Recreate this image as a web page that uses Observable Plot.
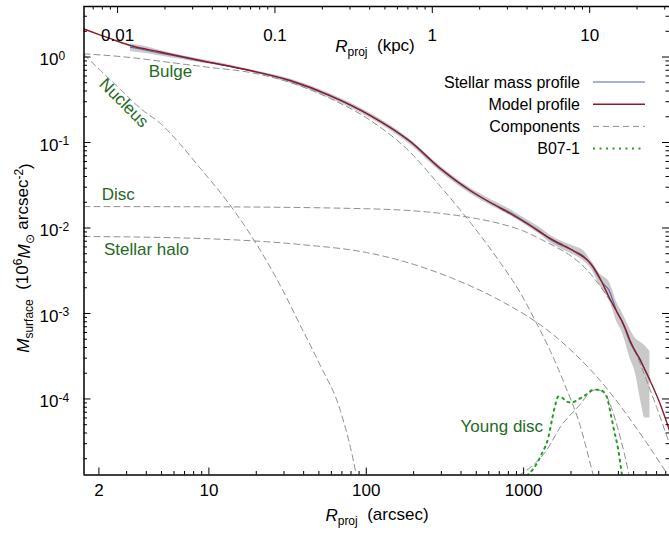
<!DOCTYPE html>
<html><head><meta charset="utf-8">
<script src="https://cdn.jsdelivr.net/npm/d3@7"></script>
<script src="https://cdn.jsdelivr.net/npm/@observablehq/plot@0.6"></script>
<style>
html,body{margin:0;padding:0;background:#fff;}
#chart svg text{font-family:"Liberation Sans", Arial, Helvetica, sans-serif;}
</style></head><body><div id="chart"></div>
<script>
// ---------- data (R in arcsec, M in 10^6 Msun arcsec^-2) ----------
const modelR = [1.608, 2.047, 2.549, 3.17, 4.922, 8.83, 18.34, 32.9, 59.0, 106.5, 190.9, 296, 458, 612, 820, 1097, 1473, 1800, 2100, 2695, 3060, 3470, 3905, 4404, 4740, 5520, 6350, 7310, 8450];
const modelM = [2.126, 1.808, 1.560, 1.363, 1.144, 0.910, 0.695, 0.531, 0.3545, 0.2069, 0.1027, 0.0496, 0.02745, 0.01987, 0.01478, 0.01070, 0.00754, 0.00624, 0.00531, 0.00374, 0.002566, 0.00158, 0.001055, 0.000686, 0.000483, 0.000282, 0.0001646, 0.0000910, 0.0000428];

const obsR = [3.17, 3.674, 4.922, 6.59, 8.83, 11.83, 18.34, 32.9, 59.0, 106.5, 190.9, 296, 458, 612, 820, 1097, 1300, 1473, 1800, 2100, 2400, 2695, 3060, 3300, 3470, 3700, 3905, 4200, 4404, 4740, 5100, 5520, 5900, 6350];
const obsM = [1.30, 1.24, 1.11, 1.00, 0.90, 0.82, 0.69, 0.525, 0.350, 0.205, 0.101, 0.0490, 0.0272, 0.0200, 0.0152, 0.0109, 0.0089, 0.0074, 0.0061, 0.0054, 0.0047, 0.0037, 0.0025, 0.0021, 0.0019, 0.0014, 0.00105, 0.00083, 0.00066, 0.00046, 0.00036, 0.00029, 0.00022, 0.00017];
const obsLo = [1.16, 1.12, 1.03, 0.94, 0.86, 0.79, 0.67, 0.495, 0.328, 0.191, 0.094, 0.0455, 0.0252, 0.0185, 0.0140, 0.0100, 0.0081, 0.0067, 0.0055, 0.0048, 0.0041, 0.0033, 0.0021, 0.0017, 0.0015, 0.00108, 0.00080, 0.00062, 0.00048, 0.00030, 0.00021, 0.00010, 0.00006, 0.00006];
const obsHi = [1.42, 1.36, 1.19, 1.05, 0.94, 0.85, 0.71, 0.555, 0.372, 0.219, 0.108, 0.0527, 0.0293, 0.0217, 0.0165, 0.0119, 0.0098, 0.0082, 0.0068, 0.0061, 0.0054, 0.0041, 0.0029, 0.0026, 0.0024, 0.0018, 0.00135, 0.00105, 0.00088, 0.00066, 0.00052, 0.00046, 0.00042, 0.00036];

const nucleusR = [1.608, 2.047, 2.743, 3.674, 4.922, 6.592, 8.831, 11.83, 15.85, 21.23, 28.44, 38.1, 51.0, 68.4, 86.5, 94.4];
const nucleusM = [1.07, 0.695, 0.417, 0.250, 0.167, 0.0948, 0.0497, 0.0260, 0.01257, 0.00546, 0.00212, 0.000724, 0.000247, 0.0000733, 0.0000127, 0.000005];

const bulgeR = [1.608, 3.17, 5.70, 10.22, 18.34, 32.9, 59.0, 106.5, 190.9, 296, 458, 709, 950, 1183, 1473, 1833, 2284, 2720, 3060];
const bulgeM = [1.090, 0.987, 0.862, 0.754, 0.659, 0.503, 0.327, 0.181, 0.0764, 0.0306, 0.0116, 0.00395, 0.00176, 0.000828, 0.000369, 0.000144, 0.000049, 0.0000146, 0.0000065];

const discR = [1.608, 10, 100, 300, 500, 700, 1000, 1300, 1600, 2000, 2500, 3000, 3500, 4000, 4500, 5000, 5500, 6000, 7000, 8000, 8450];
const discM = [0.0178, 0.0177, 0.0168, 0.0148, 0.0129, 0.0113, 0.0092, 0.0073, 0.0060, 0.0047, 0.0033, 0.0022, 0.00145, 0.00095, 0.00060, 0.00039, 0.00026, 0.00017, 0.000080, 0.000040, 0.000030];

const haloR = [1.608, 8.83, 38.1, 100, 164.9, 342, 709, 1473, 1706, 3060, 5906, 8140, 9160];
const haloM = [0.00796, 0.00754, 0.00641, 0.00517, 0.00417, 0.002637, 0.001419, 0.000604, 0.000483, 0.0001646, 0.0000327, 0.00001345, 0.0000097];

const youngR = [927, 1396, 1706, 2284, 2642, 2890, 3160, 3404, 3667, 3950, 4315, 4645, 4836];
const youngM = [0.0000127, 0.000025, 0.0000465, 0.0000863, 0.000119, 0.000129, 0.0001225, 0.000104, 0.0000733, 0.0000465, 0.000025, 0.00001345, 0.0000085];

const b07R = [1048, 1154, 1305, 1437, 1510, 1585, 1663, 1755, 1861, 2023, 2218, 2458, 2775, 3060, 3245, 3404, 3540, 3717, 3999, 4203, 4283];
const b07M = [0.0000127, 0.0000153, 0.0000229, 0.0000357, 0.000056, 0.0000839, 0.000107, 0.000104, 0.0000935, 0.000091, 0.0000987, 0.00011, 0.000128, 0.0001276, 0.000119, 0.0001014, 0.0000733, 0.0000468, 0.000025, 0.00001345, 0.0000106];

// tick values
const xMajor = [2, 10, 100, 1000];
const xMinor = [3,4,5,6,7,8,9,20,30,40,50,60,70,80,90,200,300,400,500,600,700,800,900,2000,3000,4000,5000,6000,7000,8000];
const kpcMajor = [0.01, 0.1, 1, 10];
const kpcMinor = [0.007,0.008,0.009,0.02,0.03,0.04,0.05,0.06,0.07,0.08,0.09,0.2,0.3,0.4,0.5,0.6,0.7,0.8,0.9,2,3,4,5,6,7,8,9,20,30];
const yMajor = [1, 0.1, 0.01, 0.001, 0.0001];
const yMinor = [2e-5,3e-5,4e-5,5e-5,6e-5,7e-5,8e-5,9e-5,2e-4,3e-4,4e-4,5e-4,6e-4,7e-4,8e-4,9e-4,0.002,0.003,0.004,0.005,0.006,0.007,0.008,0.009,0.02,0.03,0.04,0.05,0.06,0.07,0.08,0.09,0.2,0.3,0.4,0.5,0.6,0.7,0.8,0.9,2,3];
const ARCSEC_PER_KPC = 262.8;

// component annotations
const annotR = [5.70, 2.654, 4.01];
const annotM = [0.677, 0.0243, 0.00553];
const annotText = ["Bulge", "Disc", "Stellar halo"];

// ---------- layout ----------
const W = 669, H = 535, ML = 83.5, MR = 0, MT = 6, MB = 60.5;
const PW = W - ML - MR, PH = H - MT - MB;
const XDOM = [1.608, 8450], YDOM = [1.29e-5, 3.9];
const BLUE = "#5a62a8", RED = "#8b1a2a", GREY = "#8e8e8e", GREEN = "#22a022", TGREEN = "#236b23", BAND = "#c9c9c9";
const FONT = '"Liberation Sans", Arial, Helvetica, sans-serif';

const zip = (R, M) => R.map((r, i) => ({r, m: M[i]}));
const band = obsR.map((r, i) => ({r, lo: obsLo[i], hi: obsHi[i]}));
const dashed = {x: "r", y: "m", stroke: GREY, strokeWidth: 1, strokeDasharray: "6,4", curve: "monotone-x", clip: true};

const plot = Plot.plot({
  width: W, height: H,
  marginLeft: ML, marginRight: MR, marginTop: MT, marginBottom: MB,
  style: {fontFamily: FONT, fontSize: "17px", background: "white", color: "black", overflow: "visible"},
  x: {type: "log", domain: XDOM, axis: null},
  y: {type: "log", domain: YDOM, axis: null},
  marks: [
    Plot.areaY(band, {x: "r", y1: "lo", y2: "hi", fill: BAND, curve: "monotone-x", clip: true}),
    Plot.line(zip(nucleusR, nucleusM), dashed),
    Plot.line(zip(bulgeR, bulgeM), dashed),
    Plot.line(zip(discR, discM), dashed),
    Plot.line(zip(haloR, haloM), dashed),
    Plot.line(zip(youngR, youngM), dashed),
    Plot.line(zip(b07R, b07M), {x: "r", y: "m", stroke: GREEN, strokeWidth: 2, strokeDasharray: "2,4.5", curve: "monotone-x", clip: true}),
    Plot.line(zip(obsR, obsM), {x: "r", y: "m", stroke: BLUE, strokeWidth: 1.1, curve: "monotone-x", clip: true}),
    Plot.line(zip(modelR, modelM), {x: "r", y: "m", stroke: RED, strokeWidth: 1.4, curve: "monotone-x", clip: true}),
    // ticks (inward)
    Plot.tickY(yMajor, {stroke: "black", insetRight: PW - 7}),
    Plot.tickY(yMinor, {stroke: "black", insetRight: PW - 3.5}),
    Plot.tickY(yMajor, {stroke: "black", insetLeft: PW - 7}),
    Plot.tickY(yMinor, {stroke: "black", insetLeft: PW - 3.5}),
    Plot.tickX(xMajor, {stroke: "black", insetTop: PH - 7}),
    Plot.tickX(xMinor, {stroke: "black", insetTop: PH - 3.5}),
    Plot.tickX(kpcMajor, {x: d => d * ARCSEC_PER_KPC, stroke: "black", insetBottom: PH - 7}),
    Plot.tickX(kpcMinor, {x: d => d * ARCSEC_PER_KPC, stroke: "black", insetBottom: PH - 3.5}),
    // frame (left, top, bottom)
    Plot.ruleX([XDOM[0]], {stroke: "black", strokeWidth: 1.5}),
    Plot.ruleY([YDOM[0]], {stroke: "black", strokeWidth: 1.5}),
    Plot.ruleY([YDOM[1]], {stroke: "black", strokeWidth: 1.5}),
    // tick labels
    Plot.text(yMajor, {y: d => d, text: d => "10^" + Math.round(Math.log10(d)), frameAnchor: "left", textAnchor: "start", dx: -44.5, dy: 3, fontSize: 17, fill: "black"}),
    Plot.text(xMajor, {x: d => d, text: d => String(d), frameAnchor: "bottom", dy: 20.5, fontSize: 17, fill: "black"}),
    Plot.text(kpcMajor, {x: d => d * ARCSEC_PER_KPC, text: d => String(d), frameAnchor: "top", dy: 22.5, fontSize: 17, fill: "black"}),
    // component labels
    Plot.text(zip(annotR, annotM).map((d, i) => ({...d, t: annotText[i]})), {x: "r", y: "m", text: "t", fill: TGREEN, fontSize: 17}),
    Plot.text([{r: 2.88, m: 0.291}], {x: "r", y: "m", text: () => "Nucleus", rotate: 45, fill: TGREEN, fontSize: 17}),
    Plot.text([{r: 1330, m: 4.76e-5}], {x: "r", y: "m", text: () => "Young disc", textAnchor: "end", fill: TGREEN, fontSize: 17})
  ]
});

const svg = d3.select(plot);
svg.attr("font-family", FONT);

// superscripts in y tick labels
svg.selectAll("text").each(function() {
  const m = /^10\^(-?\d+)$/.exec(this.textContent);
  if (!m) return;
  const t = d3.select(this);
  t.text("10");
  t.append("tspan").attr("dy", "-0.48em").attr("font-size", "12px").text(m[1]);
});

// axis titles
const bt = svg.append("text").attr("x", 377).attr("y", 521).attr("text-anchor", "middle").attr("font-size", 17).attr("fill", "black");
bt.append("tspan").attr("font-style", "italic").text("R");
bt.append("tspan").attr("font-size", 12).attr("dy", "0.3em").text("proj");
bt.append("tspan").attr("dy", "-0.3em").text("\u00a0 (arcsec)");

const tt = svg.append("text").attr("x", 375).attr("y", 52).attr("text-anchor", "middle").attr("font-size", 17).attr("fill", "black");
tt.append("tspan").attr("font-style", "italic").text("R");
tt.append("tspan").attr("font-size", 12).attr("dy", "0.3em").text("proj");
tt.append("tspan").attr("dy", "-0.3em").text("\u00a0 (kpc)");

const yt = svg.append("text").attr("transform", "translate(29,258) rotate(-90)").attr("text-anchor", "middle").attr("font-size", 17).attr("fill", "black");
yt.append("tspan").attr("font-style", "italic").text("M");
yt.append("tspan").attr("font-size", 12).attr("dy", "0.3em").text("surface");
yt.append("tspan").attr("dy", "-0.3em").text("\u00a0 (10");
yt.append("tspan").attr("font-size", 12).attr("dy", "-0.48em").text("6");
yt.append("tspan").attr("dy", "0.48em").attr("font-style", "italic").text("M");
yt.append("tspan").attr("font-size", 12).attr("dy", "0.3em").text("\u2299");
yt.append("tspan").attr("dy", "-0.3em").text(" arcsec");
yt.append("tspan").attr("font-size", 12).attr("dy", "-0.48em").text("-2");
yt.append("tspan").attr("dy", "0.48em").text(")");

// legend
const legend = [
  {label: "Stellar mass profile", stroke: BLUE, w: 1.2, dash: null},
  {label: "Model profile", stroke: RED, w: 1.4, dash: null},
  {label: "Components", stroke: GREY, w: 1, dash: "6,4"},
  {label: "B07-1", stroke: GREEN, w: 2, dash: "2,4.5"}
];
const lg = svg.append("g");
legend.forEach((e, i) => {
  const y = 82 + i * 22.2;
  lg.append("text").attr("x", 580).attr("y", y).attr("dy", "0.35em").attr("text-anchor", "end").attr("font-size", 16).attr("fill", "black").text(e.label);
  const ln = lg.append("line").attr("x1", 593).attr("x2", 645).attr("y1", y).attr("y2", y).attr("stroke", e.stroke).attr("stroke-width", e.w);
  if (e.dash) ln.attr("stroke-dasharray", e.dash);
});

document.getElementById("chart").appendChild(plot);
</script></body></html>
